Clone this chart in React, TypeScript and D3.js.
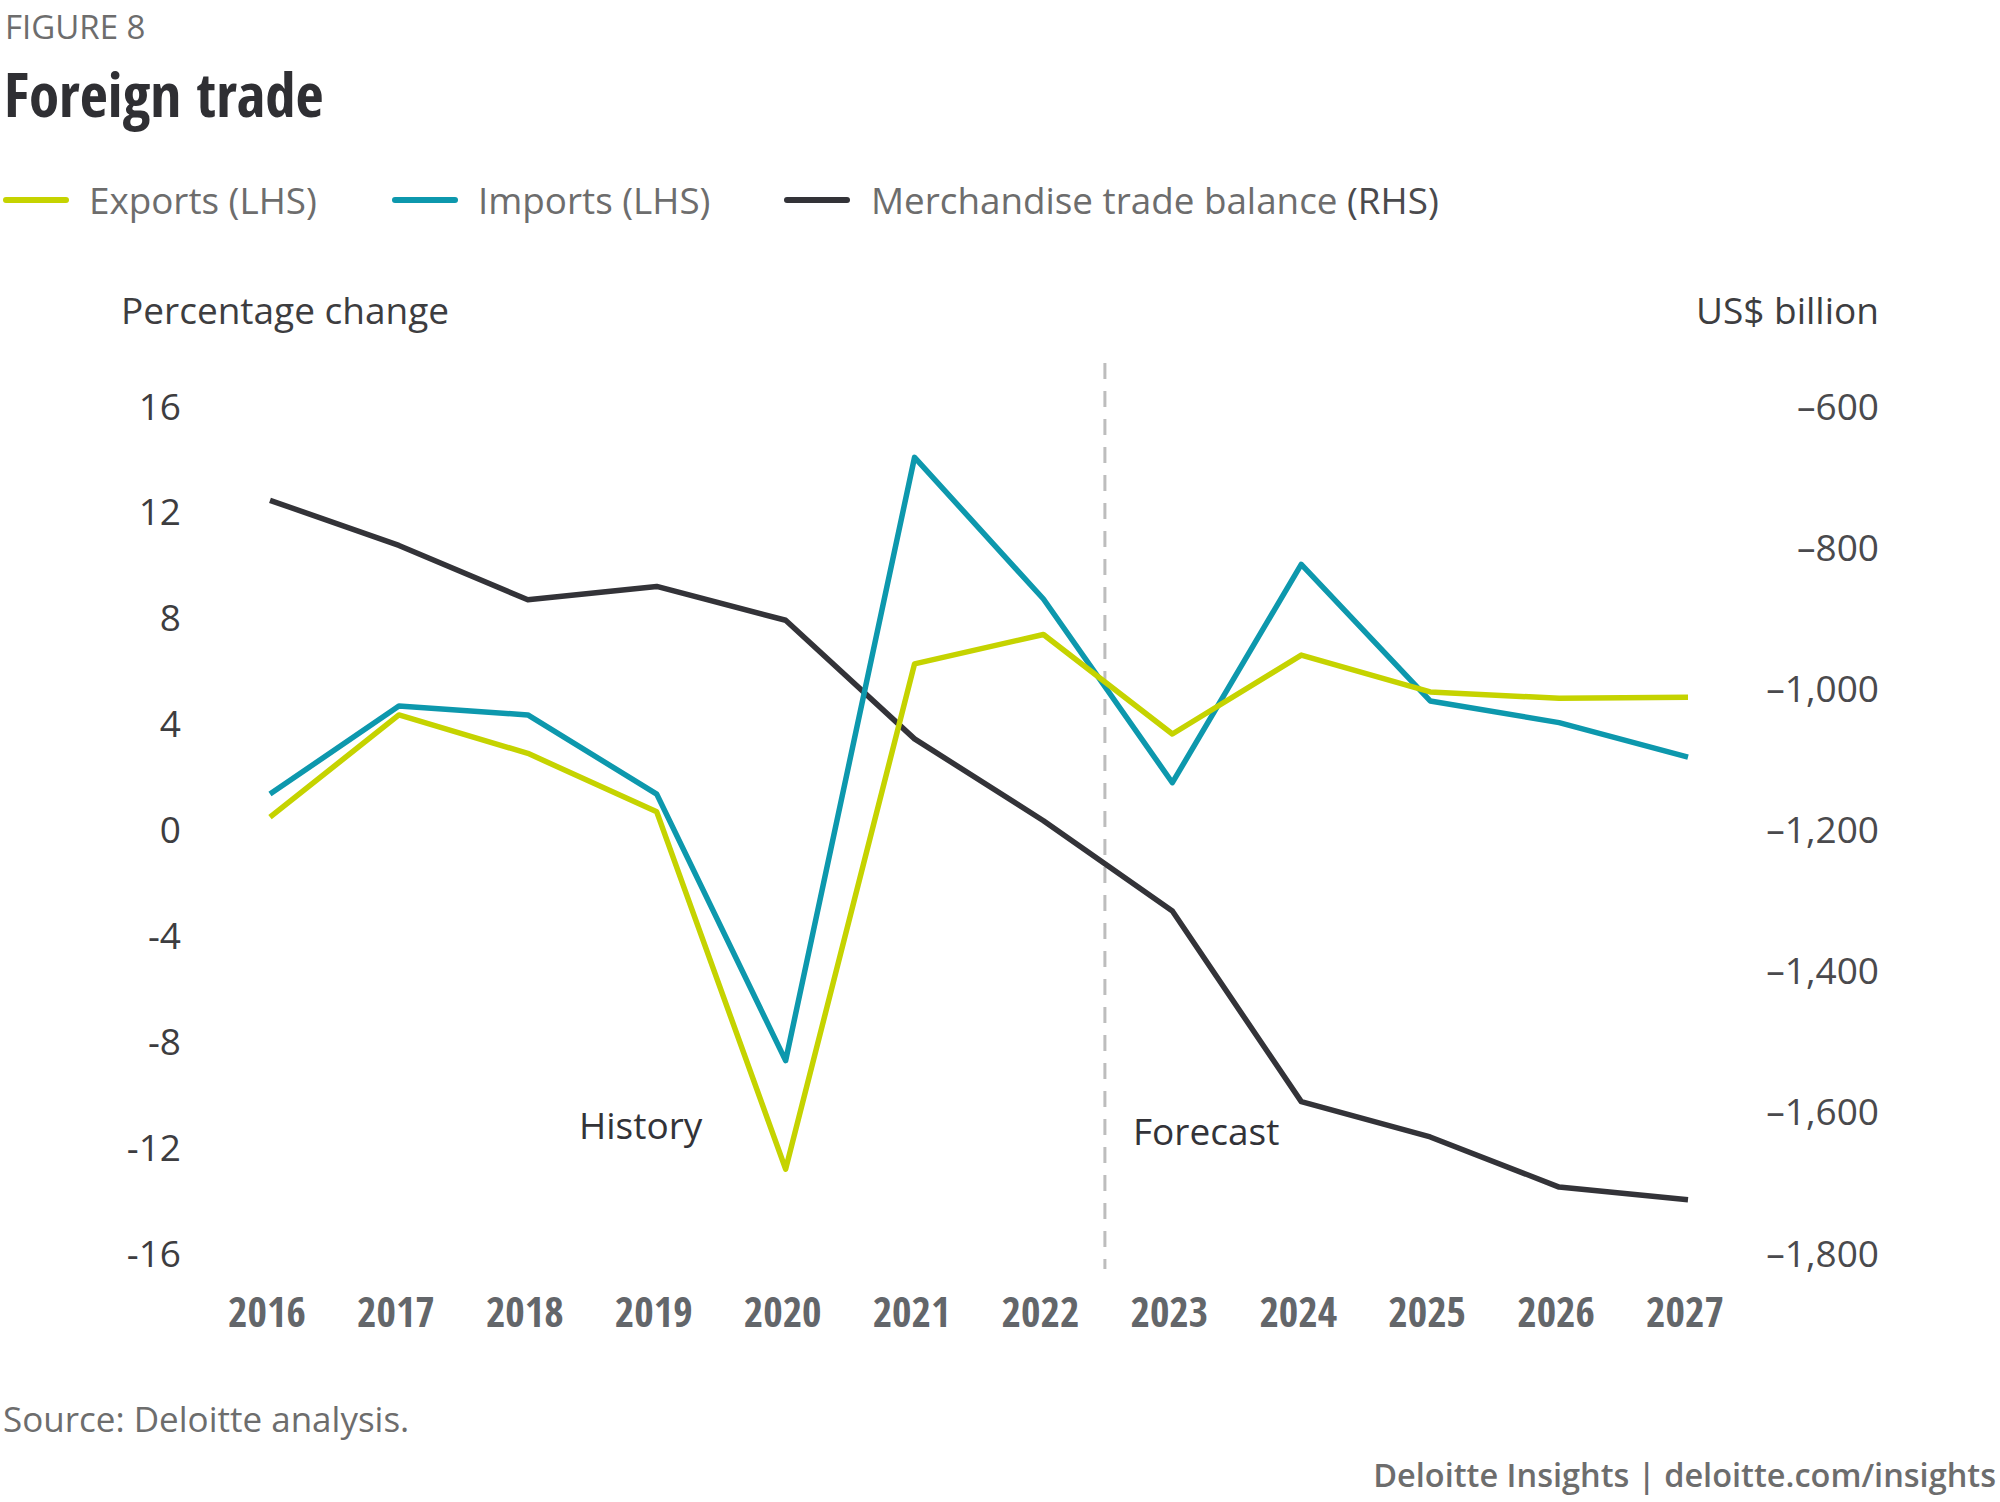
import React from "react";
import * as d3 from "d3";

const years = ["2016","2017","2018","2019","2020","2021","2022","2023","2024","2025","2026","2027"];
const exportsLHS = [0.43, 4.29, 2.84, 0.63, -12.87, 6.22, 7.33, 3.57, 6.55, 5.16, 4.92, 4.96];
const importsLHS = [1.3, 4.63, 4.29, 1.3, -8.77, 14.02, 8.67, 1.73, 9.98, 4.82, 4.0, 2.7];
const balanceRHS = [-735, -799, -876, -857, -905, -1073, -1189, -1317, -1587, -1637, -1708, -1726];
const leftTicks = [16, 12, 8, 4, 0, -4, -8, -12, -16];
const rightTicks = [-600, -800, -1000, -1200, -1400, -1600, -1800];

const W = 2000, H = 1502;
const FONT = "'Open Sans', 'Noto Sans', sans-serif";
const COND = "'Open Sans Condensed', 'Open Sans', 'Liberation Sans Narrow', sans-serif";

export default function App() {
  const x = d3.scalePoint<string>().domain(years).range([270, 1688]);
  const yL = d3.scaleLinear().domain([-16, 16]).range([1252, 405]);
  const yR = d3.scaleLinear().domain([-1800, -600]).range([1252, 405]);

  const lineL = d3.line<number>().x((_, i) => x(years[i])!).y((d) => yL(d));
  const lineR = d3.line<number>().x((_, i) => x(years[i])!).y((d) => yR(d));

  const fmtR = (v: number) => "–" + d3.format(",")(Math.abs(v));
  const fmtL = (v: number) => (v < 0 ? "-" + Math.abs(v) : String(v));

  const divX = (x("2022")! + x("2023")!) / 2 - 3;

  const legend = [
    { lx: 6, tx: 89, color: "#c5d300", label: "Exports (LHS)", extra: "" },
    { lx: 395, tx: 478, color: "#0d98ad", label: "Imports (LHS)", extra: "" },
    { lx: 787, tx: 871, color: "#333338", label: "Merchandise trade balance ", extra: "(RHS)" },
  ];

  return (
    <svg width={W} height={H} style={{ position: "absolute", left: 0, top: 0, background: "#fff" }}>
      <rect width={W} height={H} fill="#fff" />
      <text x={5} y={39} fontFamily={FONT} fontSize={33} fill="#6d6d6d">FIGURE 8</text>
      <text x={4} y={117} fontFamily={COND} fontStretch="condensed" fontWeight={700} fontSize={61} fill="#2f2f33">Foreign trade</text>

      {legend.map((l) => (
        <g key={l.label}>
          <line x1={l.lx} x2={l.lx + 60} y1={200} y2={200} stroke={l.color} strokeWidth={6} strokeLinecap="round" />
          <text x={l.tx} y={200} dominantBaseline="central" fontFamily={FONT} fontSize={36.8} fill="#6d6d6d">
            {l.label}
            {l.extra ? <tspan fill="#4a4a4d">{l.extra}</tspan> : null}
          </text>
        </g>
      ))}

      <text x={121} y={309} dominantBaseline="central" fontFamily={FONT} fontSize={37} fill="#3d3d40">Percentage change</text>
      <text x={1879} y={309} textAnchor="end" dominantBaseline="central" fontFamily={FONT} fontSize={37} fill="#3d3d40">US$ billion</text>

      {leftTicks.map((t) => (
        <text key={"l" + t} x={181} y={yL(t)} textAnchor="end" dominantBaseline="central" fontFamily={FONT} fontSize={37} fill="#3d3d40">{t < 0 ? "‐" + Math.abs(t) : fmtL(t)}</text>
      ))}
      {rightTicks.map((t) => (
        <text key={"r" + t} x={1879} y={yR(t)} textAnchor="end" dominantBaseline="central" fontFamily={FONT} fontSize={37} fill="#4a4a4d">{fmtR(t)}</text>
      ))}
      {years.map((yv) => (
        <text key={yv} x={x(yv)! - 3} y={1310} textAnchor="middle" dominantBaseline="central" fontFamily={COND} fontStretch="condensed" fontWeight={700} fontSize={42} fill="#63666a">{yv}</text>
      ))}

      <line x1={divX} x2={divX} y1={363} y2={1269} stroke="#bdbdbd" strokeWidth={3} strokeDasharray="16 12" />
      <text x={579} y={1124} dominantBaseline="central" fontFamily={FONT} fontSize={37} fill="#333338">History</text>
      <text x={1133} y={1130} dominantBaseline="central" fontFamily={FONT} fontSize={37} fill="#333338">Forecast</text>

      <path d={lineR(balanceRHS)!} fill="none" stroke="#333338" strokeWidth={5.5} strokeLinejoin="round" />
      <path d={lineL(importsLHS)!} fill="none" stroke="#0d98ad" strokeWidth={5.5} strokeLinejoin="round" />
      <path d={lineL(exportsLHS)!} fill="none" stroke="#c5d300" strokeWidth={5.5} strokeLinejoin="round" />

      <text x={3} y={1418} dominantBaseline="central" fontFamily={FONT} fontSize={35} fill="#6d6d6d">Source: Deloitte analysis.</text>
      <text x={1996} y={1474} textAnchor="end" dominantBaseline="central" fontFamily={FONT} fontWeight={600} fontSize={32.5} fill="#6d6d6d">Deloitte Insights | deloitte.com/insights</text>
    </svg>
  );
}
